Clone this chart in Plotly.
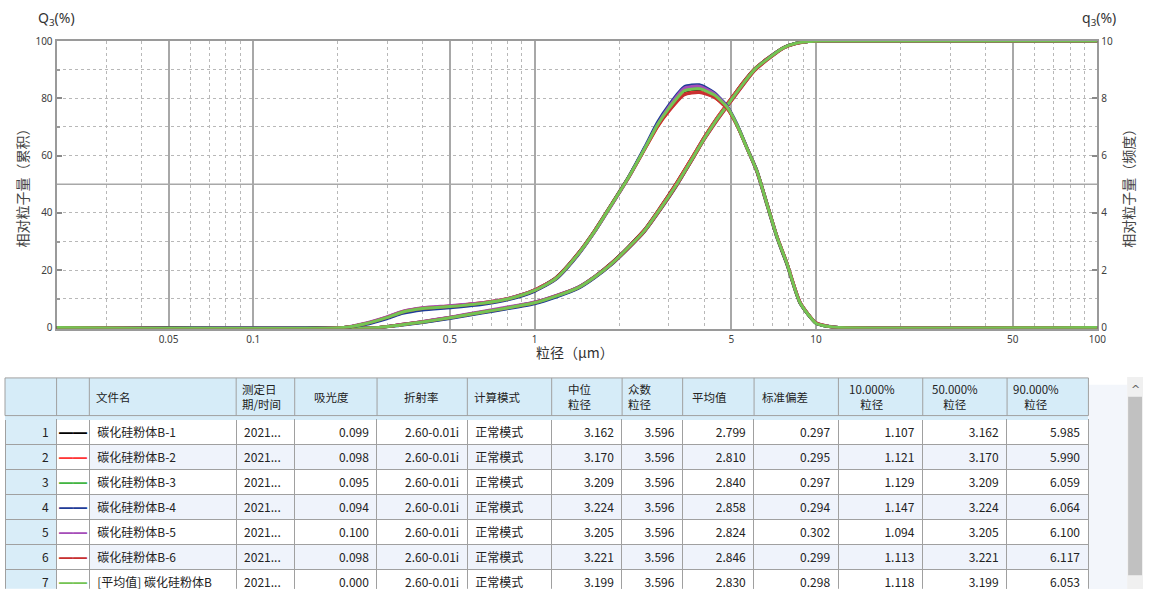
import plotly.graph_objects as go

# ---------------- data ----------------
SERIES_NAMES = ["碳化硅粉体B-1", "碳化硅粉体B-2", "碳化硅粉体B-3", "碳化硅粉体B-4",
                "碳化硅粉体B-5", "碳化硅粉体B-6", "[平均值] 碳化硅粉体B"]
SERIES_COLORS = ["#000000", "#ff3535", "#42b542", "#1f3d98", "#a54db8", "#c83030", "#74c453"]

# frequency q3 (right axis, %)
X_FREQ = [0.02, 0.21, 0.25, 0.30, 0.34, 0.40, 0.50, 0.65, 0.81, 1.00, 1.19, 1.43, 1.64, 1.88,
          2.15, 2.46, 2.74, 3.00, 3.40, 3.85, 4.34, 4.84, 5.25, 5.69, 6.17, 6.70, 7.27, 7.88,
          8.78, 10.0, 11.0, 12.0, 100]
FREQ_B1 = [0, 0, 0.13, 0.36, 0.55, 0.67, 0.74, 0.85, 1.01, 1.31, 1.74, 2.60, 3.41, 4.32, 5.23, 6.25, 7.08,
           7.62, 8.22, 8.30, 8.10, 7.66, 7.04, 6.24, 5.42, 4.26, 3.12, 2.20, 0.84, 0.15, 0.04, 0, 0]
FREQ_B2 = [0, 0, 0.14, 0.37, 0.56, 0.68, 0.75, 0.86, 1.02, 1.31, 1.73, 2.59, 3.40, 4.31, 5.22, 6.22, 7.03,
           7.56, 8.14, 8.22, 8.05, 7.64, 7.04, 6.26, 5.46, 4.32, 3.18, 2.26, 0.88, 0.16, 0.04, 0, 0]
FREQ_B3 = [0, 0, 0.12, 0.34, 0.52, 0.64, 0.72, 0.83, 0.99, 1.28, 1.70, 2.56, 3.37, 4.29, 5.21, 6.25, 7.11,
           7.68, 8.30, 8.38, 8.15, 7.69, 7.06, 6.26, 5.46, 4.31, 3.16, 2.24, 0.86, 0.15, 0.04, 0, 0]
FREQ_B4 = [0, 0, 0.10, 0.31, 0.49, 0.61, 0.69, 0.80, 0.97, 1.26, 1.68, 2.54, 3.36, 4.29, 5.23, 6.29, 7.18,
           7.76, 8.40, 8.47, 8.20, 7.72, 7.08, 6.27, 5.47, 4.32, 3.17, 2.24, 0.86, 0.15, 0.04, 0, 0]
FREQ_B5 = [0, 0, 0.15, 0.38, 0.57, 0.69, 0.76, 0.86, 1.02, 1.30, 1.71, 2.56, 3.36, 4.27, 5.19, 6.23, 7.10,
           7.70, 8.35, 8.42, 8.17, 7.70, 7.05, 6.24, 5.44, 4.30, 3.16, 2.25, 0.88, 0.16, 0.05, 0, 0]
FREQ_B6 = [0, 0, 0.13, 0.35, 0.54, 0.66, 0.73, 0.84, 1.00, 1.29, 1.71, 2.57, 3.38, 4.30, 5.21, 6.21, 7.02,
           7.55, 8.12, 8.20, 8.04, 7.63, 7.03, 6.25, 5.45, 4.31, 3.17, 2.25, 0.87, 0.16, 0.04, 0, 0]
FREQ_AVG = [0, 0, 0.13, 0.35, 0.54, 0.66, 0.73, 0.84, 1.00, 1.29, 1.71, 2.57, 3.38, 4.30, 5.22, 6.24, 7.09,
            7.65, 8.26, 8.33, 8.12, 7.68, 7.05, 6.25, 5.45, 4.30, 3.16, 2.24, 0.86, 0.15, 0.04, 0, 0]

# cumulative Q3 (left axis, %)
X_CUM = [0.02, 0.28, 0.33, 0.40, 0.50, 0.65, 0.80, 1.00, 1.20, 1.43, 1.64, 1.88, 2.15, 2.46, 2.80, 3.20,
         3.69, 4.00, 4.40, 4.84, 5.54, 6.05, 6.70, 7.66, 8.50, 9.40, 10.5, 100]
CUM_B1 = [0, 0, 0.9, 2.0, 3.5, 5.4, 6.9, 8.8, 11.2, 14.1, 17.9, 22.6, 28.1, 34.2, 42.0, 50.6, 60.5, 66.3,
          72.5, 78.1, 85.9, 90.3, 93.8, 97.7, 99.2, 99.8, 100, 100]
CUM_B2 = [0, 0, 0.9, 2.0, 3.5, 5.4, 6.9, 8.7, 11.0, 13.9, 17.8, 22.5, 28.0, 34.1, 41.9, 50.5, 60.5, 66.3,
          72.5, 78.1, 85.8, 90.3, 93.8, 97.7, 99.2, 99.8, 100, 100]
CUM_B3 = [0, 0, 0.8, 1.8, 3.3, 5.2, 6.7, 8.5, 10.9, 13.8, 17.6, 22.2, 27.7, 33.7, 41.4, 49.9, 59.9, 65.7,
          71.9, 77.5, 85.2, 90.0, 93.6, 97.6, 99.2, 99.8, 100, 100]
CUM_B4 = [0, 0, 0.7, 1.7, 3.1, 5.0, 6.5, 8.3, 10.7, 13.6, 17.4, 22.0, 27.5, 33.5, 41.1, 49.6, 59.8, 65.7,
          71.9, 77.5, 85.2, 89.9, 93.6, 97.6, 99.2, 99.8, 100, 100]
CUM_B5 = [0, 0, 0.9, 2.1, 3.6, 5.6, 7.1, 8.9, 11.3, 14.1, 17.8, 22.3, 27.7, 33.7, 41.4, 49.9, 59.8, 65.5,
          71.6, 77.2, 85.0, 89.7, 93.4, 97.5, 99.1, 99.8, 100, 100]
CUM_B6 = [0, 0, 0.8, 1.9, 3.4, 5.3, 6.8, 8.6, 11.1, 13.9, 17.7, 22.2, 27.6, 33.6, 41.2, 49.7, 59.7, 65.5,
          71.6, 77.2, 84.9, 89.6, 93.3, 97.5, 99.1, 99.8, 100, 100]
CUM_AVG = [0, 0, 0.8, 1.9, 3.4, 5.3, 6.8, 8.6, 11.0, 13.9, 17.7, 22.3, 27.8, 33.8, 41.5, 50.0, 60.0, 65.8,
           72.0, 77.6, 85.4, 90.0, 93.6, 97.6, 99.2, 99.8, 100, 100]

FREQ_ALL = [FREQ_B1, FREQ_B2, FREQ_B3, FREQ_B4, FREQ_B5, FREQ_B6, FREQ_AVG]
CUM_ALL = [CUM_B1, CUM_B2, CUM_B3, CUM_B4, CUM_B5, CUM_B6, CUM_AVG]

X_TICKS = [0.05, 0.1, 0.5, 1, 5, 10, 50, 100]
X_TICK_TEXT = ["0.05", "0.1", "0.5", "1", "5", "10", "50", "100"]
X_MINOR = [0.03, 0.04, 0.06, 0.07, 0.08, 0.09, 0.2, 0.3, 0.4, 0.6, 0.7, 0.8, 0.9,
           2, 3, 4, 6, 7, 8, 9, 20, 30, 40, 60, 70, 80, 90]
YL_TICKS = [0, 20, 40, 60, 80, 100]
YR_TICKS = [0, 2, 4, 6, 8, 10]

# table
ROW_NO = ["1", "2", "3", "4", "5", "6", "7"]
DATES = ["2021..."] * 7
ABSORBANCE = ["0.099", "0.098", "0.095", "0.094", "0.100", "0.098", "0.000"]
REFRACTIVE = ["2.60-0.01i"] * 7
CALC_MODE = ["正常模式"] * 7
MEDIAN = ["3.162", "3.170", "3.209", "3.224", "3.205", "3.221", "3.199"]
MODE_SIZE = ["3.596"] * 7
MEAN = ["2.799", "2.810", "2.840", "2.858", "2.824", "2.846", "2.830"]
STD_DEV = ["0.297", "0.295", "0.297", "0.294", "0.302", "0.299", "0.298"]
D10 = ["1.107", "1.121", "1.129", "1.147", "1.094", "1.113", "1.118"]
D50 = ["3.162", "3.170", "3.209", "3.224", "3.205", "3.221", "3.199"]
D90 = ["5.985", "5.990", "6.059", "6.064", "6.100", "6.117", "6.053"]
HEADERS = ["", "", "文件名", "测定日<br>期/时间", "吸光度", "折射率", "计算模式", "中位<br>粒径",
           "众数<br>粒径", "平均值", "标准偏差", "10.000%<br>粒径", "50.000%<br>粒径", "90.000%<br>粒径"]

# ---------------- layout geometry (pixels) ----------------
W, H = 1152, 594
ML, MR, MT, MB = 5, 0, 41, 0
PW, PH = W - ML - MR, H - MT - MB


def px_x(x):
    return (x - ML) / PW


def px_y(y):
    return (H - MB - y) / PH


COL_EDGES = [5, 57, 90, 238, 297, 380, 471, 556, 627, 688, 760, 845, 930, 1015, 1097]
HEAD_TOP, HEAD_BOT = 381, 419
TABLE_OFFSET = 12  # empty header strip that plotly keeps above the body
HEAD_POS = [None, None, (95, "left"), (242, "left"), (334, "center"), (425, "center"), (476, "left"),
            (570, "left"), (631, "left"), (695, "left"), (766, "left"), (879, "center"),
            (963, "center"), (1044, "center")]

FONT = "Noto Sans CJK SC, Noto Sans, sans-serif"
GRID_MAJ = "#a8a8a8"
GRID_MIN = "#b8b8b8"
HEAD_FILL = "#d6ecf8"
LINE_GRAY = "#a0a0a0"

fig = go.Figure()

for i in range(7):
    fig.add_trace(go.Scatter(x=X_FREQ, y=FREQ_ALL[i], mode="lines", yaxis="y2",
                             line=dict(color=SERIES_COLORS[i], width=3, shape="spline", smoothing=0.6),
                             showlegend=False, hoverinfo="skip"))
    fig.add_trace(go.Scatter(x=X_CUM, y=CUM_ALL[i], mode="lines", yaxis="y",
                             line=dict(color=SERIES_COLORS[i], width=3, shape="spline", smoothing=0.6),
                             showlegend=False, hoverinfo="skip"))

n = len(ROW_NO)
legend_marks = ["━━"] * n
white = "#ffffff"
band = "#eff3fb"
idx_fill = "#d9edf8"
row_fill = [white if k % 2 == 0 else band for k in range(n)]
fills = [[idx_fill] * n, [white] * n] + [row_fill] * 12
font_colors = [["#222222"] * n, SERIES_COLORS] + [["#222222"] * n] * 12
font_sizes = [12, 14] + [12] * 12
widths = [COL_EDGES[k + 1] - COL_EDGES[k] for k in range(len(COL_EDGES) - 1)]

fig.add_trace(go.Table(
    domain=dict(x=[px_x(COL_EDGES[0]), px_x(COL_EDGES[-1])], y=[0, px_y(HEAD_BOT - TABLE_OFFSET)]),
    columnwidth=widths,
    header=dict(height=0, fill_color=HEAD_FILL, line=dict(width=0)),
    cells=dict(values=[ROW_NO, legend_marks, SERIES_NAMES, DATES, ABSORBANCE, REFRACTIVE, CALC_MODE,
                       MEDIAN, MODE_SIZE, MEAN, STD_DEV, D10, D50, D90],
               height=25,
               fill_color=fills,
               line=dict(color=LINE_GRAY, width=1),
               align=["right", "center", "left", "left", "right", "right", "left", "right",
                      "right", "right", "right", "right", "right", "right"],
               font=dict(family=FONT, size=font_sizes, color=font_colors)),
))

xdom = [px_x(57), px_x(1106)]
ydom = [px_y(331.5), 1]

axis_font = dict(family="Noto Sans, sans-serif", size=10, color="#404040")

shapes = [
    dict(type="line", xref="x domain", yref="y", x0=0, x1=1, y0=50, y1=50,
         line=dict(color=GRID_MAJ, width=1.5), layer="below"),
    dict(type="rect", xref="paper", yref="paper", x0=px_x(1097), x1=px_x(1136),
         y0=px_y(594), y1=px_y(388), fillcolor="#f3f6fb", line=dict(width=0), layer="below"),
    dict(type="rect", xref="paper", yref="paper", x0=px_x(1136), x1=px_x(1152),
         y0=px_y(594), y1=px_y(380), fillcolor="#f0f0f0", line=dict(width=0)),
    dict(type="rect", xref="paper", yref="paper", x0=px_x(1137), x1=px_x(1151),
         y0=px_y(580), y1=px_y(400), fillcolor="#c1c1c1", line=dict(width=0)),
    dict(type="rect", xref="paper", yref="paper", x0=px_x(COL_EDGES[0]), x1=px_x(COL_EDGES[-1]),
         y0=px_y(HEAD_BOT), y1=px_y(HEAD_TOP), fillcolor=HEAD_FILL,
         line=dict(color=LINE_GRAY, width=1)),
]
for e in COL_EDGES[1:-1]:
    shapes.append(dict(type="line", xref="paper", yref="paper", x0=px_x(e), x1=px_x(e),
                       y0=px_y(HEAD_BOT), y1=px_y(HEAD_TOP), line=dict(color=LINE_GRAY, width=1)))

annotations = [
    dict(text="Q<sub>3</sub>(%)", xref="paper", yref="paper", x=px_x(57), y=px_y(18),
         xanchor="center", yanchor="middle", showarrow=False,
         font=dict(family="Noto Sans, sans-serif", size=14, color="#333333")),
    dict(text="q<sub>3</sub>(%)", xref="paper", yref="paper", x=px_x(1108), y=px_y(18),
         xanchor="center", yanchor="middle", showarrow=False,
         font=dict(family="Noto Sans, sans-serif", size=14, color="#333333")),
    dict(text="相对粒子量（累积）", xref="paper", yref="paper", x=px_x(22), y=px_y(186),
         textangle=-90, xanchor="center", yanchor="middle", showarrow=False,
         font=dict(family=FONT, size=14, color="#444444")),
    dict(text="相对粒子量（频度）", xref="paper", yref="paper", x=px_x(1137), y=px_y(186),
         textangle=-90, xanchor="center", yanchor="middle", showarrow=False,
         font=dict(family=FONT, size=14, color="#444444")),
    dict(text="粒径（μm）", xref="paper", yref="paper", x=px_x(580), y=px_y(355),
         xanchor="center", yanchor="middle", showarrow=False,
         font=dict(family=FONT, size=14, color="#333333")),
    dict(text="^", xref="paper", yref="paper", x=px_x(1144), y=px_y(393),
         xanchor="center", yanchor="middle", showarrow=False,
         font=dict(family="DejaVu Sans", size=11, color="#606060")),
]
for k, pos in enumerate(HEAD_POS):
    if pos is None:
        continue
    hx, anch = pos
    annotations.append(dict(text=HEADERS[k], xref="paper", yref="paper", x=px_x(hx),
                            y=px_y((HEAD_TOP + HEAD_BOT) / 2), xanchor=anch, yanchor="middle",
                            align=anch, showarrow=False,
                            font=dict(family=FONT, size=11.5, color="#222222")))

fig.update_layout(
    width=W, height=H,
    margin=dict(l=ML, r=MR, t=MT, b=MB),
    paper_bgcolor="white", plot_bgcolor="white",
    font=dict(family=FONT),
    xaxis=dict(type="log", domain=xdom, range=[-1.69897, 2],
               tickvals=X_TICKS, ticktext=X_TICK_TEXT, tickfont=axis_font,
               showgrid=True, gridcolor=GRID_MAJ, gridwidth=1.5,
               minor=dict(tickvals=X_MINOR, showgrid=True, gridcolor=GRID_MIN, griddash="dot",
                          gridwidth=1, ticks=""),
               ticks="", showline=True, linecolor="#9a9a9a", linewidth=2, mirror=True,
               zeroline=False, layer="below traces", anchor="y"),
    yaxis=dict(domain=ydom, range=[-0.5, 100], tickvals=YL_TICKS, tickfont=axis_font,
               showgrid=False, zeroline=False,
               minor=dict(tickvals=[10, 20, 30, 40, 60, 70, 80, 90], showgrid=True,
                          gridcolor=GRID_MIN, griddash="dot", gridwidth=1, ticks="inside",
                          ticklen=3, tickcolor="#9a9a9a"),
               ticks="inside", ticklen=5, tickcolor="#8a8a8a", tickwidth=1.5,
               showline=True, linecolor="#9a9a9a", linewidth=2, layer="below traces",
               anchor="x"),
    yaxis2=dict(domain=ydom, range=[-0.05, 10], tickvals=YR_TICKS, tickfont=axis_font,
                overlaying="y", side="right", showgrid=False, zeroline=False,
                ticks="inside", ticklen=5, tickcolor="#8a8a8a", tickwidth=1.5,
                showline=True, linecolor="#9a9a9a", linewidth=2, layer="below traces",
                anchor="x"),
    shapes=shapes,
    annotations=annotations,
)

fig.write_html("out.html", config={"displayModeBar": False},
               post_script="document.body.style.margin='0';document.body.style.overflow='hidden';")
